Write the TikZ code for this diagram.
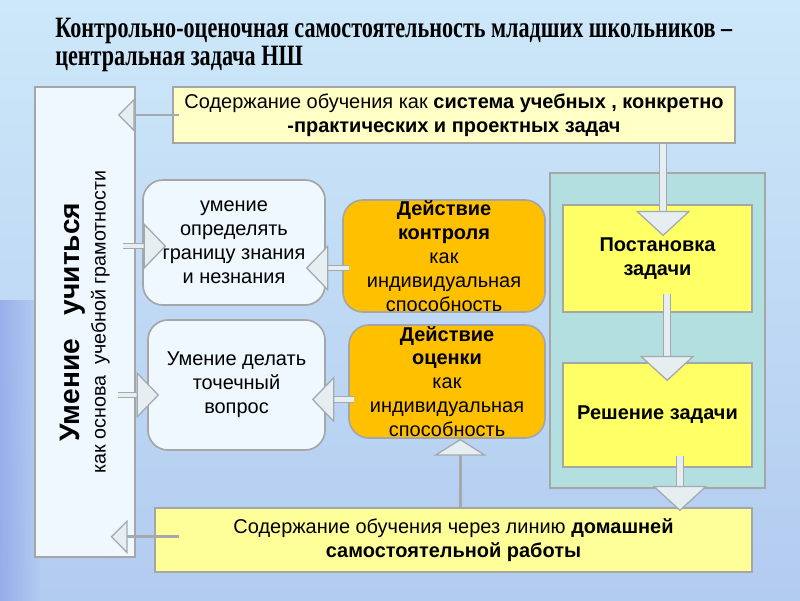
\documentclass[tikz,border=0pt]{standalone}
\usepackage{fontspec}
\setmainfont{Liberation Sans}
\newfontfamily\titlefont[FakeStretch=0.75]{Liberation Serif}
\usetikzlibrary{arrows.meta}

\definecolor{bgtop}{HTML}{CDE8F9}
\definecolor{bgbottom}{HTML}{B2CBF0}
\definecolor{bgstripe}{HTML}{8EA6EA}
\definecolor{boxline}{HTML}{A6A6A6}
\definecolor{paleblue}{HTML}{EFF8FE}
\definecolor{paleyellow}{HTML}{FFFFC6}
\definecolor{lightyellow}{HTML}{FFFF99}
\definecolor{brightyellow}{HTML}{FFFF66}
\definecolor{amber}{HTML}{FFC000}
\definecolor{panelteal}{HTML}{B4DFE0}
\definecolor{arrowfill}{HTML}{E7EEF2}
\definecolor{arrowline}{HTML}{A3AAAE}

\tikzset{
  box/.style={draw=boxline, line width=1.2pt, align=center, inner sep=0pt,
    font=\fontsize{14.2}{17}\selectfont},
  softbox/.style={box, fill=paleblue, rounded corners=0.5cm},
  actbox/.style={box, fill=amber, rounded corners=0.5cm},
  taskbox/.style={box, fill=brightyellow, font=\fontsize{14.2}{17}\selectfont\bfseries},
  thinarrow/.style={draw=arrowline, line width=2pt,
    -{Triangle[width=24pt, length=12pt, fill=arrowfill, line width=0.9pt]}},
  widearrow/.style={draw=arrowline, line width=0.9pt, double=arrowfill, double distance=3pt,
    -{Triangle[width=33pt, length=16pt, fill=arrowfill, line width=0.9pt]}},
  bigarrow/.style={draw=arrowline, line width=0.9pt, double=arrowfill, double distance=4pt,
    -{Triangle[width=39pt, length=18pt, fill=arrowfill, line width=0.9pt]}},
  uparrow/.style={draw=arrowline, line width=2pt,
    -{Triangle[width=38pt, length=12pt, fill=arrowfill, line width=0.9pt]}}
}

\begin{document}
\begin{tikzpicture}[x=0.025cm, y=-0.025cm]
  \useasboundingbox (0,0) rectangle (800,600);
  % Background of the slide
  \shade [top color=bgtop, bottom color=bgbottom] (0,0) rectangle (800,600);
  \shade [left color=bgstripe, right color=bgbottom, opacity=0.8] (0,300) rectangle (40,600);

  % Title
  \node [anchor=north west, align=left, inner sep=0pt,
    font=\titlefont\bfseries\fontsize{21}{19.5}\selectfont] (title) at (55,18)
    {Контрольно-оценочная самостоятельность младших школьников –\\центральная задача НШ};

  % The tall box on the left and its turned label
  \node [box, fill=paleblue, minimum width=2.5cm, minimum height=11.75cm] (skill) at (85,322) {};
  \node [rotate=90, align=center, inner sep=0pt, font=\fontsize{14}{18.5}\selectfont] (skilltext) at (85,322)
    {{\fontsize{20}{18.5}\selectfont\bfseries Умение\ \ \ учиться}\\как основа\ \ учебной грамотности};

  % Content boxes at top and bottom
  \node [box, fill=paleyellow, minimum width=14.05cm, minimum height=1.4cm] (top) at (454,115)
    {Содержание обучения как \textbf{система учебных , конкретно}\\\textbf{-практических и проектных задач}};
  \node [box, fill=lightyellow, minimum width=14.925cm, minimum height=1.6cm] (bottom) at (453.5,540)
    {Содержание обучения через линию \textbf{домашней}\\\textbf{самостоятельной работы}};

  % Rounded boxes in the middle
  \node [softbox, minimum width=4.55cm, minimum height=3.125cm] (know) at (234,242.5)
    {умение\\определять\\границу знания\\и незнания};
  \node [softbox, minimum width=4.425cm, minimum height=3.25cm] (ask) at (236.5,385)
    {Умение делать\\точечный\\вопрос};
  \node [actbox, minimum width=5.05cm, minimum height=2.8cm] (ctrl) at (444,256)
    {\textbf{Действие}\\\textbf{контроля}\\как\\индивидуальная\\способность};
  \node [actbox, minimum width=4.9cm, minimum height=2.825cm] (eval) at (447,381.5)
    {\textbf{Действие}\\\textbf{оценки}\\как\\индивидуальная\\способность};

  % Panel with the two task steps
  \node [box, fill=panelteal, minimum width=5.375cm, minimum height=7.875cm] (panel) at (657.5,330.5) {};
  \node [taskbox, minimum width=4.725cm, minimum height=2.675cm] (post) at (657.5,258.5)
    {Постановка\\задачи};
  \node [taskbox, minimum width=4.725cm, minimum height=2.6cm] (solve) at (657.5,415)
    {Решение задачи};

  % Arrows
  \draw [thinarrow] ([xshift=0.18cm]top.west) -- ([xshift=-0.45cm]skill.east |- top.west);
  \draw [thinarrow] ([xshift=0.63cm,yshift=0.08cm]bottom.west) -- ([xshift=-0.63cm,yshift=0.08cm]skill.east |- bottom.west);
  \draw [widearrow] ([xshift=-0.33cm,yshift=-0.09cm]skill.east |- know.west) -- ([xshift=0.6cm,yshift=-0.09cm]know.west);
  \draw [widearrow] ([xshift=-0.45cm,yshift=-0.25cm]skill.east |- ask.west) -- ([xshift=0.3cm,yshift=-0.25cm]ask.west);
  \draw [widearrow] ([xshift=0.18cm,yshift=-0.3cm]ctrl.west) -- ([xshift=-0.5cm,yshift=-0.3cm]know.east |- ctrl.west);
  \draw [widearrow] ([xshift=0.15cm,yshift=-0.45cm]eval.west) -- ([xshift=-0.35cm,yshift=-0.45cm]ask.east |- eval.west);
  \draw [bigarrow] ([xshift=0.14cm]post.north |- top.south) -- ([xshift=0.14cm,yshift=-0.8cm]post.north);
  \draw [bigarrow] ([xshift=0.24cm,yshift=0.475cm]post.south) -- ([xshift=0.24cm,yshift=-0.475cm]solve.north);
  \draw [bigarrow] ([xshift=0.56cm,yshift=0.3cm]solve.south) -- ([xshift=0.56cm,yshift=-0.1cm]solve.south |- bottom.north);
  \draw [uparrow] ([xshift=0.33cm]eval.south |- bottom.north) -- ([xshift=0.33cm]eval.south);
\end{tikzpicture}
\end{document}
